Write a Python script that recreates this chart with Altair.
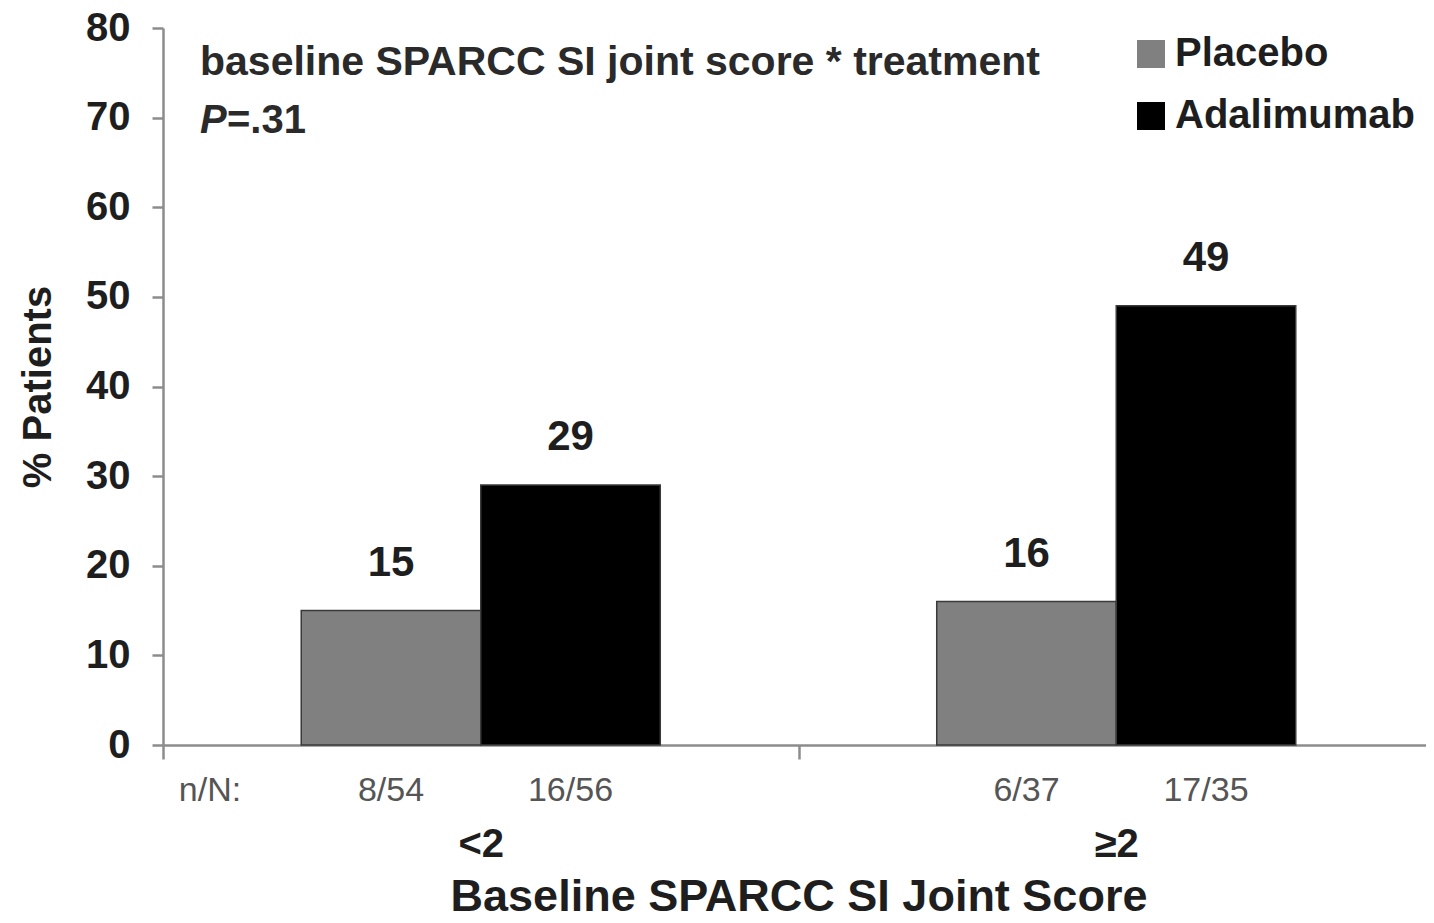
import altair as alt
import pandas as pd

# ---- data ----
groups = ["<2", "<2", "≥2", "≥2"]
treatments = ["Placebo", "Adalimumab", "Placebo", "Adalimumab"]
values = [15, 29, 16, 49]
counts = ["8/54", "16/56", "6/37", "17/35"]
group_order = ["<2", "≥2"]
treatment_order = ["Placebo", "Adalimumab"]
colors = ["#808080", "#000000"]
y_ticks = [0, 10, 20, 30, 40, 50, 60, 70, 80]
note_line1 = ["baseline SPARCC SI joint score * treatment"]
note_p = ["P"]
note_pval = ["=.31"]
counts_prefix = ["n/N:"]

df = pd.DataFrame({"group": groups, "treatment": treatments,
                   "value": values, "count": counts})

FONT = "Liberation Sans"
W, H = 1263, 717
TXT = "#1e1e1e"

x_enc = alt.X("group:N", sort=group_order,
              scale=alt.Scale(domain=group_order, range=[0, 1271],
                              paddingInner=0, paddingOuter=0),
              axis=alt.Axis(title="Baseline SPARCC SI Joint Score",
                            tickBand="extent", labelAngle=0,
                            labelFontSize=40, labelPadding=65,
                            tickSize=14, titlePadding=10,
                            titleFontSize=45))
xo_enc = alt.XOffset("treatment:N", sort=treatment_order,
                     scale=alt.Scale(domain=treatment_order,
                                     paddingInner=0, paddingOuter=0.77))
y_enc = alt.Y("value:Q", scale=alt.Scale(domain=[0, 80]),
              axis=alt.Axis(values=y_ticks, title="% Patients",
                            tickSize=11, labelPadding=22,
                            labelFontSize=40, titleFontSize=40,
                            titlePadding=27))

base = alt.Chart(df).encode(x=x_enc, xOffset=xo_enc)

bars = base.mark_bar(stroke="#3a3a3a", strokeWidth=1.5).encode(
    y=y_enc,
    color=alt.Color("treatment:N", sort=treatment_order,
                    scale=alt.Scale(domain=treatment_order, range=colors),
                    legend=alt.Legend(orient="none", legendX=968, legendY=6,
                                      title=None, symbolType="square",
                                      symbolSize=784, symbolStrokeWidth=0,
                                      labelFont=FONT, labelFontSize=40,
                                      labelFontWeight="bold", labelColor=TXT,
                                      labelLimit=600,
                                      rowPadding=22, labelOffset=4,
                                      padding=0)),
)

value_labels = base.mark_text(baseline="bottom", dy=-26, font=FONT,
                              fontSize=42, fontWeight="bold",
                              color=TXT).encode(y="value:Q", text="value:Q")

count_labels = base.mark_text(baseline="middle", font=FONT, fontSize=34,
                              color="#555555").encode(
    y=alt.value(763), text="count:N")

prefix = alt.Chart(pd.DataFrame({"t": counts_prefix})).mark_text(
    baseline="middle", align="center", font=FONT, fontSize=34,
    color="#555555").encode(x=alt.value(47), y=alt.value(763), text="t:N")

note1 = alt.Chart(pd.DataFrame({"t": note_line1})).mark_text(
    baseline="alphabetic", align="left", font=FONT, fontSize=41,
    fontWeight="bold", color="#2a2a2a").encode(
    x=alt.value(37), y=alt.value(47), text="t:N")

note_p_txt = alt.Chart(pd.DataFrame({"t": note_p})).mark_text(
    baseline="alphabetic", align="left", font=FONT, fontSize=40,
    fontWeight="bold", fontStyle="italic", color="#2a2a2a").encode(
    x=alt.value(37), y=alt.value(105), text="t:N")

note_pval_txt = alt.Chart(pd.DataFrame({"t": note_pval})).mark_text(
    baseline="alphabetic", align="left", font=FONT, fontSize=40,
    fontWeight="bold", color="#2a2a2a").encode(
    x=alt.value(64), y=alt.value(105), text="t:N")

chart = alt.layer(
    bars, value_labels, count_labels, prefix, note1, note_p_txt, note_pval_txt
).properties(
    width=W, height=H,
    autosize=alt.AutoSizeParams(type="none"),
    padding={"left": 155, "top": 20, "right": 0, "bottom": 176},
).configure_view(stroke=None).configure_axis(
    grid=False,
    domainColor="#8c8c8c", domainWidth=2.5,
    tickColor="#8c8c8c", tickWidth=2.5,
    labelFont=FONT, labelFontWeight="bold", labelColor=TXT,
    titleFont=FONT, titleFontWeight="bold", titleColor=TXT,
)

chart.save("out.html", embed_options={"renderer": "svg", "actions": False})
